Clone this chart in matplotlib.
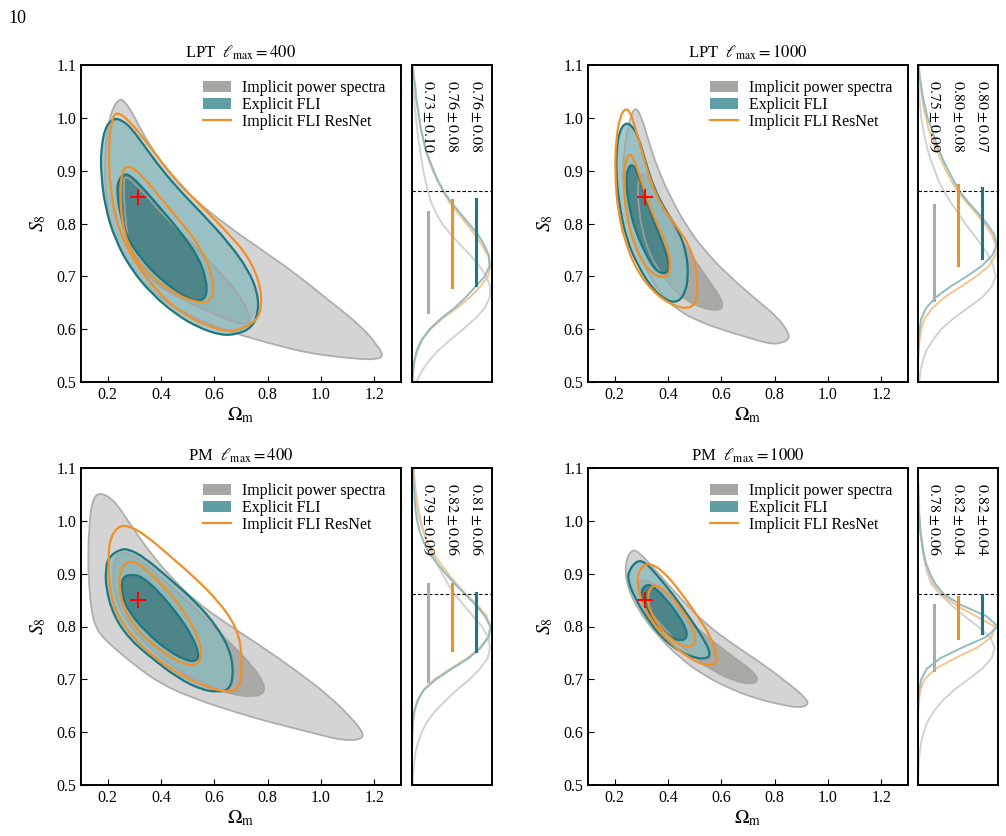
import numpy as np
import matplotlib
matplotlib.use("Agg")
import matplotlib.pyplot as plt
from matplotlib.patches import Patch, PathPatch
from matplotlib.path import Path
from matplotlib.lines import Line2D

plt.rcParams['font.family'] = 'serif'
plt.rcParams['font.serif'] = ['Liberation Serif', 'DejaVu Serif']
plt.rcParams['mathtext.fontset'] = 'stix'

# ---------------- contour outlines (Omega_m, S8) ----------------
# LPT, lmax = 400
lpt400_ps95 = [(0.243, 1.035), (0.259, 1.034), (0.290, 1.012), (0.328, 0.974), (0.378, 0.933), (0.440, 0.889),
               (0.528, 0.844), (0.653, 0.794), (0.778, 0.750), (0.903, 0.706), (1.028, 0.655), (1.153, 0.605),
               (1.215, 0.567), (1.234, 0.549), (1.209, 0.543), (1.153, 0.543), (1.053, 0.548), (0.953, 0.555),
               (0.853, 0.567), (0.753, 0.581), (0.678, 0.592), (0.590, 0.608), (0.503, 0.627), (0.403, 0.655),
               (0.315, 0.696), (0.253, 0.744), (0.209, 0.800), (0.190, 0.863), (0.190, 0.939), (0.203, 0.990),
               (0.221, 1.021)]
lpt400_ps68 = [(0.265, 0.892), (0.315, 0.870), (0.403, 0.819), (0.503, 0.769), (0.603, 0.718), (0.690, 0.668),
               (0.738, 0.624), (0.728, 0.610), (0.678, 0.612), (0.578, 0.633), (0.478, 0.656), (0.390, 0.682),
               (0.315, 0.718), (0.275, 0.769), (0.263, 0.832), (0.260, 0.876)]
lpt400_fli95 = [(0.175, 0.939), (0.190, 0.982), (0.221, 0.999), (0.253, 0.996), (0.290, 0.980), (0.340, 0.945),
                (0.403, 0.902), (0.478, 0.858), (0.565, 0.813), (0.653, 0.764), (0.728, 0.712), (0.763, 0.668),
                (0.765, 0.630), (0.740, 0.603), (0.690, 0.591), (0.628, 0.588), (0.540, 0.603), (0.453, 0.629),
                (0.365, 0.667), (0.290, 0.712), (0.228, 0.769), (0.190, 0.832), (0.175, 0.895)]
lpt400_fli68 = [(0.240, 0.882), (0.263, 0.895), (0.290, 0.889), (0.340, 0.863), (0.403, 0.826), (0.478, 0.781),
                (0.540, 0.737), (0.571, 0.693), (0.571, 0.661), (0.540, 0.652), (0.490, 0.661), (0.403, 0.692),
                (0.328, 0.731), (0.271, 0.775), (0.243, 0.826), (0.235, 0.863)]
lpt400_res95 = [(0.234, 1.012), (0.278, 0.996), (0.340, 0.958), (0.403, 0.915), (0.478, 0.870), (0.565, 0.826),
                (0.653, 0.781), (0.728, 0.737), (0.771, 0.687), (0.778, 0.643), (0.759, 0.616), (0.703, 0.601),
                (0.653, 0.595), (0.578, 0.605), (0.478, 0.630), (0.390, 0.668), (0.303, 0.725), (0.240, 0.788),
                (0.209, 0.863), (0.203, 0.945), (0.215, 0.996)]
lpt400_res68 = [(0.271, 0.909), (0.303, 0.903), (0.353, 0.877), (0.415, 0.838), (0.490, 0.794), (0.553, 0.750),
                (0.590, 0.706), (0.598, 0.668), (0.578, 0.651), (0.528, 0.651), (0.453, 0.667), (0.365, 0.698),
                (0.290, 0.742), (0.253, 0.800), (0.246, 0.863), (0.255, 0.898)]

# LPT, lmax = 1000
lpt1000_ps95 = [(0.276, 1.022), (0.301, 1.002), (0.326, 0.958), (0.358, 0.908), (0.408, 0.851), (0.470, 0.794),
                (0.545, 0.744), (0.633, 0.699), (0.733, 0.655), (0.808, 0.624), (0.851, 0.595), (0.855, 0.581),
                (0.820, 0.573), (0.783, 0.572), (0.708, 0.583), (0.608, 0.598), (0.520, 0.614), (0.445, 0.633),
                (0.383, 0.661), (0.333, 0.699), (0.283, 0.750), (0.245, 0.813), (0.230, 0.876), (0.235, 0.939),
                (0.255, 0.996)]
lpt1000_ps68 = [(0.301, 0.895), (0.326, 0.889), (0.358, 0.851), (0.420, 0.794), (0.483, 0.744), (0.545, 0.698),
                (0.595, 0.662), (0.608, 0.643), (0.589, 0.635), (0.533, 0.639), (0.464, 0.655), (0.401, 0.687),
                (0.339, 0.731), (0.301, 0.788), (0.286, 0.851), (0.289, 0.882)]
lpt1000_fli95 = [(0.239, 0.991), (0.264, 0.986), (0.289, 0.964), (0.314, 0.920), (0.345, 0.870), (0.389, 0.826),
                 (0.439, 0.788), (0.470, 0.744), (0.476, 0.699), (0.464, 0.668), (0.439, 0.652), (0.401, 0.652),
                 (0.345, 0.674), (0.289, 0.718), (0.245, 0.769), (0.218, 0.832), (0.205, 0.895), (0.208, 0.945),
                 (0.218, 0.974)]
lpt1000_fli68 = [(0.264, 0.913), (0.283, 0.901), (0.308, 0.863), (0.339, 0.813), (0.376, 0.769), (0.401, 0.731),
                 (0.405, 0.712), (0.385, 0.704), (0.351, 0.712), (0.314, 0.744), (0.276, 0.788), (0.251, 0.838),
                 (0.243, 0.882), (0.249, 0.904)]
lpt1000_res95 = [(0.239, 1.018), (0.258, 1.012), (0.276, 0.983), (0.301, 0.939), (0.333, 0.882), (0.376, 0.832),
                 (0.433, 0.794), (0.483, 0.756), (0.508, 0.712), (0.510, 0.668), (0.501, 0.646), (0.470, 0.639),
                 (0.433, 0.643), (0.395, 0.652), (0.345, 0.671), (0.289, 0.706), (0.245, 0.756), (0.213, 0.819),
                 (0.201, 0.895), (0.205, 0.958), (0.220, 1.002)]
lpt1000_res68 = [(0.255, 0.932), (0.268, 0.927), (0.295, 0.889), (0.326, 0.838), (0.364, 0.794), (0.401, 0.753),
                 (0.410, 0.715), (0.398, 0.699), (0.364, 0.698), (0.314, 0.718), (0.270, 0.762), (0.243, 0.819),
                 (0.233, 0.882), (0.241, 0.920)]

# PM, lmax = 400
pm400_ps95 = [(0.171, 1.053), (0.215, 1.043), (0.253, 1.018), (0.303, 0.980), (0.365, 0.936), (0.440, 0.892),
              (0.528, 0.848), (0.653, 0.803), (0.778, 0.762), (0.903, 0.718), (1.028, 0.670), (1.128, 0.620),
              (1.163, 0.594), (1.140, 0.585), (1.078, 0.585), (1.003, 0.594), (0.903, 0.607), (0.778, 0.623),
              (0.653, 0.642), (0.528, 0.663), (0.403, 0.690), (0.303, 0.726), (0.228, 0.758), (0.184, 0.778),
              (0.153, 0.800), (0.139, 0.832), (0.130, 0.876), (0.126, 0.940), (0.133, 1.002), (0.139, 1.027),
              (0.151, 1.046)]
pm400_ps68 = [(0.228, 0.942), (0.303, 0.936), (0.403, 0.892), (0.528, 0.835), (0.653, 0.772), (0.740, 0.728),
              (0.790, 0.690), (0.784, 0.672), (0.740, 0.667), (0.678, 0.670), (0.590, 0.684), (0.465, 0.715),
              (0.340, 0.766), (0.253, 0.822), (0.215, 0.879)]
pm400_fli95 = [(0.203, 0.930), (0.240, 0.945), (0.278, 0.947), (0.340, 0.930), (0.428, 0.892), (0.528, 0.848),
               (0.615, 0.797), (0.665, 0.747), (0.671, 0.702), (0.653, 0.680), (0.615, 0.676), (0.553, 0.680),
               (0.465, 0.702), (0.365, 0.740), (0.278, 0.778), (0.221, 0.822), (0.193, 0.873), (0.193, 0.911)]
pm400_fli68 = [(0.253, 0.892), (0.284, 0.899), (0.328, 0.895), (0.390, 0.867), (0.465, 0.822), (0.521, 0.778),
               (0.543, 0.747), (0.534, 0.735), (0.503, 0.734), (0.428, 0.753), (0.340, 0.791), (0.278, 0.829),
               (0.253, 0.860)]
pm400_res95 = [(0.209, 0.967), (0.240, 0.990), (0.278, 0.991), (0.340, 0.974), (0.428, 0.936), (0.528, 0.892),
               (0.615, 0.848), (0.678, 0.803), (0.703, 0.759), (0.703, 0.702), (0.684, 0.680), (0.646, 0.676),
               (0.578, 0.684), (0.478, 0.706), (0.378, 0.740), (0.290, 0.781), (0.228, 0.829), (0.205, 0.879),
               (0.203, 0.936)]
pm400_res68 = [(0.243, 0.904), (0.271, 0.923), (0.309, 0.922), (0.365, 0.898), (0.440, 0.860), (0.503, 0.816),
               (0.546, 0.772), (0.553, 0.740), (0.534, 0.728), (0.503, 0.726), (0.440, 0.740), (0.353, 0.772),
               (0.284, 0.810), (0.247, 0.854)]

# PM, lmax = 1000
pm1000_ps95 = [(0.264, 0.947), (0.295, 0.939), (0.358, 0.904), (0.445, 0.854), (0.545, 0.803), (0.645, 0.766),
               (0.758, 0.728), (0.858, 0.690), (0.920, 0.663), (0.926, 0.652), (0.895, 0.646), (0.833, 0.651),
               (0.733, 0.663), (0.633, 0.682), (0.533, 0.708), (0.445, 0.740), (0.358, 0.784), (0.283, 0.835),
               (0.245, 0.879), (0.239, 0.920)]
pm1000_ps68 = [(0.295, 0.892), (0.358, 0.879), (0.433, 0.835), (0.520, 0.791), (0.633, 0.747), (0.720, 0.715),
               (0.739, 0.699), (0.720, 0.691), (0.658, 0.695), (0.570, 0.715), (0.483, 0.747), (0.395, 0.791),
               (0.320, 0.835), (0.289, 0.867)]
pm1000_fli95 = [(0.251, 0.904), (0.283, 0.925), (0.314, 0.922), (0.358, 0.898), (0.420, 0.860), (0.483, 0.816),
                (0.539, 0.772), (0.558, 0.750), (0.551, 0.740), (0.508, 0.739), (0.445, 0.752), (0.376, 0.779),
                (0.320, 0.816), (0.276, 0.854), (0.251, 0.885)]
pm1000_fli68 = [(0.298, 0.867), (0.318, 0.880), (0.345, 0.876), (0.389, 0.854), (0.439, 0.822), (0.470, 0.794),
                (0.470, 0.778), (0.451, 0.773), (0.414, 0.778), (0.370, 0.797), (0.333, 0.822), (0.308, 0.848)]
pm1000_res95 = [(0.283, 0.892), (0.301, 0.914), (0.333, 0.920), (0.383, 0.904), (0.445, 0.867), (0.508, 0.822),
                (0.564, 0.778), (0.585, 0.740), (0.576, 0.729), (0.539, 0.726), (0.483, 0.739), (0.408, 0.768),
                (0.339, 0.808), (0.295, 0.853)]
pm1000_res68 = [(0.323, 0.854), (0.333, 0.874), (0.358, 0.879), (0.401, 0.863), (0.451, 0.832), (0.495, 0.797),
                (0.505, 0.772), (0.489, 0.762), (0.458, 0.762), (0.408, 0.777), (0.364, 0.802), (0.333, 0.829)]

# ---------------- S8 marginals (relative density) ----------------
s8_grid = [1.10, 1.08, 1.06, 1.04, 1.02, 1.00, 0.98, 0.96, 0.94, 0.92, 0.90, 0.88, 0.86, 0.84, 0.82, 0.80,
           0.78, 0.76, 0.74, 0.72, 0.70, 0.68, 0.66, 0.64, 0.62, 0.60, 0.58, 0.56, 0.54, 0.52, 0.50]

lpt400_ps_marg = [0.005, 0.01, 0.02, 0.025, 0.035, 0.05, 0.063, 0.08, 0.10, 0.12, 0.14, 0.17, 0.20, 0.24, 0.30, 0.375,
                  0.48, 0.60, 0.73, 0.84, 0.93, 0.98, 0.97, 0.91, 0.79, 0.64, 0.48, 0.33, 0.21, 0.12, 0.055]
lpt400_res_marg = [0.01, 0.02, 0.04, 0.05, 0.07, 0.09, 0.11, 0.14, 0.17, 0.21, 0.26, 0.32, 0.39, 0.47, 0.57, 0.68,
                   0.78, 0.87, 0.95, 0.98, 0.95, 0.85, 0.72, 0.56, 0.38, 0.23, 0.13, 0.07, 0.03, 0.015, 0.005]
lpt400_fli_marg = [0.01, 0.02, 0.04, 0.05, 0.07, 0.09, 0.11, 0.14, 0.17, 0.22, 0.27, 0.33, 0.40, 0.49, 0.60, 0.71,
                   0.82, 0.90, 0.96, 0.97, 0.91, 0.79, 0.67, 0.53, 0.36, 0.22, 0.12, 0.06, 0.03, 0.015, 0.005]

lpt1000_ps_marg = [0.003, 0.006, 0.01, 0.017, 0.027, 0.04, 0.063, 0.09, 0.12, 0.16, 0.21, 0.26, 0.33, 0.41, 0.50,
                   0.59, 0.69, 0.79, 0.88, 0.94, 0.97, 0.92, 0.80, 0.62, 0.44, 0.29, 0.19, 0.105, 0.06, 0.03, 0.017]
lpt1000_res_marg = [0.01, 0.02, 0.035, 0.05, 0.07, 0.10, 0.13, 0.18, 0.23, 0.29, 0.35, 0.42, 0.50, 0.61, 0.72, 0.83,
                    0.92, 0.97, 0.97, 0.89, 0.73, 0.53, 0.33, 0.18, 0.08, 0.04, 0.02, 0.008, 0.003, 0, 0]
lpt1000_fli_marg = [0.01, 0.02, 0.04, 0.06, 0.09, 0.12, 0.17, 0.21, 0.26, 0.315, 0.38, 0.45, 0.525, 0.63, 0.75, 0.86,
                    0.95, 0.985, 0.93, 0.80, 0.61, 0.40, 0.22, 0.10, 0.04, 0.02, 0.01, 0.004, 0, 0, 0]

pm400_ps_marg = [0.02, 0.03, 0.045, 0.063, 0.085, 0.11, 0.146, 0.19, 0.25, 0.31, 0.38, 0.45, 0.54, 0.65, 0.76, 0.875,
                 0.95, 0.975, 0.946, 0.85, 0.72, 0.56, 0.42, 0.29, 0.19, 0.12, 0.075, 0.042, 0.027, 0.015, 0.008]
pm400_res_marg = [0.02, 0.026, 0.035, 0.05, 0.07, 0.10, 0.14, 0.19, 0.26, 0.35, 0.45, 0.56, 0.68, 0.82, 0.93, 0.98,
                  0.95, 0.85, 0.69, 0.48, 0.28, 0.14, 0.07, 0.03, 0.013, 0.006, 0.002, 0, 0, 0, 0]
pm400_fli_marg = [0.013, 0.018, 0.025, 0.033, 0.045, 0.065, 0.096, 0.145, 0.21, 0.31, 0.42, 0.54, 0.67, 0.80, 0.91,
                  0.98, 0.96, 0.86, 0.71, 0.50, 0.30, 0.15, 0.07, 0.03, 0.013, 0.006, 0.002, 0, 0, 0, 0]

pm1000_ps_marg = [0, 0.002, 0.005, 0.01, 0.015, 0.02, 0.03, 0.045, 0.06, 0.085, 0.12, 0.17, 0.28, 0.42, 0.58, 0.75,
                  0.90, 0.96, 0.92, 0.80, 0.63, 0.45, 0.31, 0.20, 0.12, 0.07, 0.04, 0.02, 0.01, 0.005, 0]
pm1000_res_marg = [0, 0, 0.003, 0.006, 0.01, 0.02, 0.03, 0.045, 0.065, 0.09, 0.13, 0.19, 0.30, 0.48, 0.72, 0.96,
                   0.92, 0.74, 0.46, 0.22, 0.08, 0.03, 0.01, 0.003, 0, 0, 0, 0, 0, 0, 0]
pm1000_fli_marg = [0, 0, 0.003, 0.006, 0.01, 0.02, 0.03, 0.05, 0.07, 0.10, 0.15, 0.22, 0.33, 0.55, 0.85, 1.0,
                   0.85, 0.55, 0.28, 0.11, 0.04, 0.015, 0.005, 0, 0, 0, 0, 0, 0, 0, 0]

# mean and 1-sigma of S8 (power spectra, ResNet, explicit FLI)
lpt400_mean, lpt400_std = [0.727, 0.762, 0.765], [0.095, 0.082, 0.081]
lpt1000_mean, lpt1000_std = [0.745, 0.797, 0.801], [0.090, 0.076, 0.067]
pm400_mean, pm400_std = [0.788, 0.818, 0.808], [0.092, 0.062, 0.055]
pm1000_mean, pm1000_std = [0.779, 0.817, 0.824], [0.061, 0.039, 0.036]

lpt400_text = ['0.73 \\pm 0.10', '0.76 \\pm 0.08', '0.76 \\pm 0.08']
lpt1000_text = ['0.75 \\pm 0.09', '0.80 \\pm 0.08', '0.80 \\pm 0.07']
pm400_text = ['0.79 \\pm 0.09', '0.82 \\pm 0.06', '0.81 \\pm 0.06']
pm1000_text = ['0.78 \\pm 0.06', '0.82 \\pm 0.04', '0.82 \\pm 0.04']

titles = [r'LPT  $\ell_{\rm max} = 400$', r'LPT  $\ell_{\rm max} = 1000$',
          r'PM  $\ell_{\rm max} = 400$', r'PM  $\ell_{\rm max} = 1000$']
truth_om, truth_s8 = 0.313, 0.851
s8_fiducial = 0.861

panels = [
    dict(ps=(lpt400_ps95, lpt400_ps68), fli=(lpt400_fli95, lpt400_fli68), res=(lpt400_res95, lpt400_res68),
         marg=(lpt400_ps_marg, lpt400_res_marg, lpt400_fli_marg), mean=lpt400_mean, std=lpt400_std, text=lpt400_text),
    dict(ps=(lpt1000_ps95, lpt1000_ps68), fli=(lpt1000_fli95, lpt1000_fli68), res=(lpt1000_res95, lpt1000_res68),
         marg=(lpt1000_ps_marg, lpt1000_res_marg, lpt1000_fli_marg), mean=lpt1000_mean, std=lpt1000_std, text=lpt1000_text),
    dict(ps=(pm400_ps95, pm400_ps68), fli=(pm400_fli95, pm400_fli68), res=(pm400_res95, pm400_res68),
         marg=(pm400_ps_marg, pm400_res_marg, pm400_fli_marg), mean=pm400_mean, std=pm400_std, text=pm400_text),
    dict(ps=(pm1000_ps95, pm1000_ps68), fli=(pm1000_fli95, pm1000_fli68), res=(pm1000_res95, pm1000_res68),
         marg=(pm1000_ps_marg, pm1000_res_marg, pm1000_fli_marg), mean=pm1000_mean, std=pm1000_std, text=pm1000_text),
]

# colours
gray95, gray68, gray_edge = '#d4d4d4', '#a9a9a6', '#a4a4a4'
teal95, teal68, teal_edge = '#8cbbbf', '#4a8386', '#1f787e'
orange = '#ef9029'
marg_cols = ['#d2d2d2', '#f5c48f', '#8fbdc1']
bar_cols = ['#acacac', orange, teal_edge]
bar_x = [0.2, 0.5, 0.8]


def smooth_path(pts):
    # closed outline: the read points act as quadratic Bezier control points
    p = np.asarray(pts, dtype=float)
    mids = (p + np.roll(p, -1, axis=0)) / 2
    verts = [mids[-1]]
    codes = [Path.MOVETO]
    for k in range(len(p)):
        verts += [p[k], mids[k]]
        codes += [Path.CURVE3, Path.CURVE3]
    verts.append(mids[-1])
    codes.append(Path.CLOSEPOLY)
    return Path(verts, codes)


def region(ax, pts, **kw):
    ax.add_patch(PathPatch(smooth_path(pts), **kw))


fig = plt.figure(figsize=(10.06, 8.36), dpi=100)
fig.text(0.008, 0.988, '10', fontsize=13, va='top', ha='left')

W, H = 1006, 836
main_left = [81, 588]
side_left = [412, 918]
row_top = [65, 468]

for i, p in enumerate(panels):
    r, c = divmod(i, 2)
    y0 = 1 - (row_top[r] + 317) / H
    ax = fig.add_axes([main_left[c] / W, y0, 320 / W, 317 / H])
    axs = fig.add_axes([side_left[c] / W, y0, 80 / W, 317 / H])

    # implicit power spectra
    region(ax, p['ps'][0], facecolor=gray95, edgecolor='none', zorder=1)
    region(ax, p['ps'][1], facecolor=gray68, edgecolor='none', zorder=1.1)
    # explicit FLI
    region(ax, p['fli'][0], facecolor=teal95, edgecolor='none', alpha=0.8, zorder=2)
    region(ax, p['fli'][1], facecolor=teal68, edgecolor='none', alpha=0.95, zorder=2.1)
    for pts in p['ps']:
        region(ax, pts, fill=False, edgecolor=gray_edge, lw=1.3, alpha=0.85, zorder=2.5)
    for pts in p['fli']:
        region(ax, pts, fill=False, edgecolor=teal_edge, lw=1.6, zorder=3)
    for pts in p['res']:
        region(ax, pts, fill=False, edgecolor=orange, lw=1.6, zorder=4)
    ax.plot(truth_om, truth_s8, marker='+', color='red', ms=11, mew=1.4, zorder=5)

    ax.set_xlim(0.1, 1.3)
    ax.set_ylim(0.5, 1.1)
    ax.set_xticks([0.2, 0.4, 0.6, 0.8, 1.0, 1.2])
    ax.set_yticks([0.5, 0.6, 0.7, 0.8, 0.9, 1.0, 1.1])
    ax.tick_params(direction='in', length=4, labelsize=11.5, top=False, right=False)
    ax.set_xlabel(r'$\Omega_{\rm m}$', fontsize=14, labelpad=2)
    ax.set_ylabel(r'$S_8$', fontsize=14, labelpad=6)
    ax.set_title(titles[i], fontsize=12, pad=5)
    for s in ax.spines.values():
        s.set_linewidth(1.4)

    handles = [Patch(facecolor='#a6a6a2', edgecolor='none'),
               Patch(facecolor='#5f9ea4', edgecolor='none'),
               Line2D([], [], color=orange, lw=1.6)]
    ax.legend(handles, ['Implicit power spectra', 'Explicit FLI', 'Implicit FLI ResNet'],
              loc='upper right', frameon=False, fontsize=11.5, handlelength=1.8,
              handletextpad=0.7, labelspacing=0.05, borderaxespad=0.55)

    # marginal side panel
    for k in range(3):
        axs.plot(p['marg'][k], s8_grid, color=marg_cols[k], lw=1.4, zorder=1)
    for k in range(3):
        m, s = p['mean'][k], p['std'][k]
        axs.plot([bar_x[k], bar_x[k]], [m - s, m + s], color=bar_cols[k], lw=2.2, zorder=3)
        axs.text(bar_x[k], 1.072, '$' + p['text'][k] + '$', rotation=270, ha='center', va='top',
                 fontsize=11.5)
    axs.axhline(s8_fiducial, color='k', ls='--', lw=0.8, dashes=(3, 2), zorder=2)
    axs.set_xlim(0, 1.0)
    axs.set_ylim(0.5, 1.1)
    axs.set_xticks([])
    axs.set_yticks([])
    for s in axs.spines.values():
        s.set_linewidth(1.4)

fig.savefig('out.png', dpi=100)
